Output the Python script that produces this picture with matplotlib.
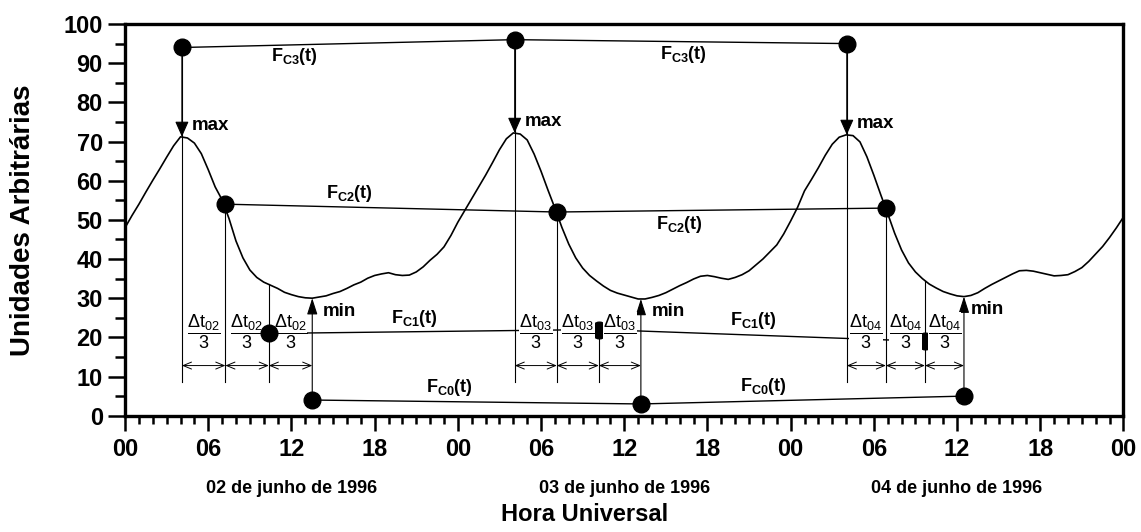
import numpy as np
import matplotlib
matplotlib.use("Agg")
import matplotlib.pyplot as plt
from matplotlib.ticker import MultipleLocator

plt.rcParams['font.family'] = ['Liberation Sans', 'DejaVu Sans']
plt.rcParams['mathtext.fontset'] = 'custom'
plt.rcParams['mathtext.rm'] = 'Liberation Sans'
plt.rcParams['mathtext.it'] = 'Liberation Sans:italic'
plt.rcParams['mathtext.bf'] = 'Liberation Sans:bold'

# ---- data -------------------------------------------------------------
# time in hours since 00 UT, 02 June 1996 (half-hour samples)
hours = np.arange(0, 72.5, 0.5)
signal = [
    # 02 June
    48.0, 51.1, 54.0, 57.1, 60.1, 63.0, 66.0, 68.9, 71.2, 70.9, 69.6, 66.9,
    62.8, 58.4, 55.1, 50.3, 44.6, 40.3, 37.2, 35.3, 34.1, 33.3, 32.5, 31.5,
    30.9, 30.4, 30.1, 30.0, 30.3, 30.6, 31.2, 31.7, 32.5, 33.4, 34.1, 35.1,
    35.8, 36.2, 36.5, 36.0, 35.8, 35.9, 36.7, 38.0, 39.7, 41.2, 43.1, 46.0,
    # 03 June
    49.4, 52.4, 55.4, 58.4, 61.4, 64.6, 67.9, 70.7, 72.2, 71.9, 70.4, 66.8,
    62.4, 57.6, 53.0, 48.1, 43.8, 40.3, 37.7, 35.8, 34.4, 33.1, 32.0, 31.3,
    30.8, 30.3, 29.8, 29.8, 30.2, 30.7, 31.4, 32.3, 33.2, 34.0, 34.9, 35.6,
    35.8, 35.5, 35.1, 34.8, 35.3, 36.0, 37.0, 38.5, 40.0, 41.8, 43.6, 46.4,
    # 04 June
    49.7, 53.2, 57.4, 60.3, 63.3, 66.5, 69.3, 71.1, 71.7, 71.5, 69.9, 66.1,
    61.4, 56.4, 51.6, 46.6, 42.3, 39.0, 36.7, 35.0, 33.6, 32.6, 31.7, 31.1,
    30.6, 30.4, 30.7, 31.4, 32.5, 33.5, 34.4, 35.3, 36.2, 37.0, 37.1, 36.9,
    36.5, 36.1, 35.7, 35.8, 36.0, 36.8, 37.8, 39.4, 41.3, 43.2, 45.5, 48.0,
    50.7,
]

# daily maximum / minimum of the curve
t_max = [4.1, 28.1, 52.05]
v_max = [71.2, 72.2, 71.7]
t_min = [13.5, 37.2, 60.5]
v_min = [30.0, 29.8, 30.4]

# levels of the F_C fits
fc3 = [94, 96, 95]
fc2 = [54, 52, 53]
fc1 = [21, 22, 19]
fc0 = [4, 3, 5]

day_codes = ['02', '03', '04']
day_labels = ['02 de junho de 1996', '03 de junho de 1996', '04 de junho de 1996']
day_centers = [12, 36, 60]
hour_labels = ['00', '06', '12', '18'] * 3 + ['00']

# ---- figure -----------------------------------------------------------
fig = plt.figure(figsize=(11.41, 5.32), dpi=100)
ax = fig.add_axes([0.1096, 0.2186, 0.875, 0.7363])

ax.plot(hours, signal, color='black', lw=1.2, zorder=2)

t_max = np.array(t_max)
t_min = np.array(t_min)
dt = t_min - t_max
t_1 = t_max + dt / 3.0        # first third -> F_C2
t_2 = t_max + 2.0 * dt / 3.0  # second third -> F_C1

line_kw = dict(color='black', lw=1.0, zorder=2)
dot_kw = dict(marker='o', ms=12, color='black', lw=0)
thin = dict(color='black', lw=0.8, zorder=1.5)

ax.plot(t_max, fc3, **line_kw)
ax.plot(t_1, fc2, **line_kw)
ax.plot(t_2, fc1, **line_kw)
ax.plot(t_min, fc0, **line_kw)
for tt, vv in [(t_max, fc3), (t_1, fc2), (t_min, fc0)]:
    ax.plot(tt, vv, zorder=3, **dot_kw)
# F_C1 points: the first one sits in front of the interval labels
ax.plot(t_2[:1], fc1[:1], zorder=5, **dot_kw)
ax.plot(t_2[1:], fc1[1:], zorder=3, **dot_kw)

y_dim = 12.8
y_bot = 8.7
curve = np.array(signal)
third_from_marker = [False, True, False]

for i in range(3):
    # vertical guides
    ax.plot([t_max[i], t_max[i]], [fc3[i], y_bot], **thin)
    ax.plot([t_1[i], t_1[i]], [fc2[i], y_bot], **thin)
    top2 = fc1[i] if third_from_marker[i] else np.interp(t_2[i], hours, curve)
    ax.plot([t_2[i], t_2[i]], [top2, y_bot], **thin)

    # arrows towards max and min
    ax.annotate('', xy=(t_max[i], v_max[i]), xytext=(t_max[i], fc3[i]),
                arrowprops=dict(arrowstyle='-|>,head_length=0.95,head_width=0.42',
                                color='black', lw=0.8, shrinkA=0, shrinkB=0,
                                mutation_scale=10), zorder=3)
    ax.annotate('', xy=(t_min[i], v_min[i]), xytext=(t_min[i], fc0[i]),
                arrowprops=dict(arrowstyle='-|>,head_length=1.0,head_width=0.32',
                                color='black', lw=0.8, shrinkA=0, shrinkB=0,
                                mutation_scale=10), zorder=3)

    # dimension arrows for the three Δt/3 intervals
    bounds = [t_max[i], t_1[i], t_2[i], t_min[i]]
    for a, b in zip(bounds[:-1], bounds[1:]):
        ax.annotate('', xy=(b, y_dim), xytext=(a, y_dim),
                    arrowprops=dict(arrowstyle='<->,head_length=0.6,head_width=0.25',
                                    color='black', lw=0.7, shrinkA=0, shrinkB=0,
                                    mutation_scale=10), zorder=2)
        ax.text((a + b) / 2.0, 21.5,
                r'$\dfrac{\Delta\mathrm{t}_{%s}}{3}$' % day_codes[i],
                ha='center', va='center', fontsize=13, zorder=4,
                bbox=dict(facecolor='white', edgecolor='none', pad=0.0))

    ax.text(t_max[i] + 0.72, v_max[i] + 3.0, 'max', fontsize=13.5,
            fontweight='bold', ha='left', va='center', zorder=4)

min_dx = [0.75, 0.8, 0.5]
for i in range(3):
    ax.text(t_min[i] + min_dx[i], v_min[i] - 3.3, 'min', fontsize=13.5,
            fontweight='bold', ha='left', va='center', zorder=4)

def fc_label(x, y, code):
    ax.text(x, y, r'$\mathbf{F}_{\mathbf{C%s}}\mathbf{(t)}$' % code,
            fontsize=13, ha='center', va='center', zorder=4)

fc_label(12.2, 91.7, '3')
fc_label(40.3, 92.1, '3')
fc_label(16.2, 56.6, '2')
fc_label(40.0, 48.7, '2')
fc_label(20.9, 24.7, '1')
fc_label(45.3, 24.3, '1')
fc_label(23.4, 7.1, '0')
fc_label(46.0, 7.4, '0')

# ---- axes -------------------------------------------------------------
ax.set_xlim(0, 72)
ax.set_ylim(0, 100)
ax.xaxis.set_minor_locator(MultipleLocator(1))
ax.yaxis.set_major_locator(MultipleLocator(10))
ax.yaxis.set_minor_locator(MultipleLocator(5))
ax.set_xticks(np.arange(0, 73, 6))
ax.set_xticklabels(hour_labels)

for s in ax.spines.values():
    s.set_linewidth(2.4)

ax.tick_params(axis='both', which='both', direction='out', top=False, right=False,
               width=1.8)
ax.tick_params(axis='x', which='major', length=11, pad=5)
ax.tick_params(axis='x', which='minor', length=6)
ax.tick_params(axis='y', which='major', length=12, pad=4)
ax.tick_params(axis='y', which='minor', length=7)
for lab in ax.get_xticklabels() + ax.get_yticklabels():
    lab.set_fontsize(17)
    lab.set_fontweight('bold')

xt = ax.get_xaxis_transform()
for c, lab in zip(day_centers, day_labels):
    ax.text(c, -0.185, lab, transform=xt, ha='center', va='center',
            fontsize=13, fontweight='bold')

ax.text(0.46, -0.252, 'Hora Universal', transform=ax.transAxes, ha='center',
        va='center', fontsize=17, fontweight='bold')
ax.text(-0.102, 0.5, 'Unidades Arbitrárias', transform=ax.transAxes, ha='center',
        va='center', rotation=90, fontsize=20, fontweight='bold')

fig.savefig('out.png', dpi=100)
